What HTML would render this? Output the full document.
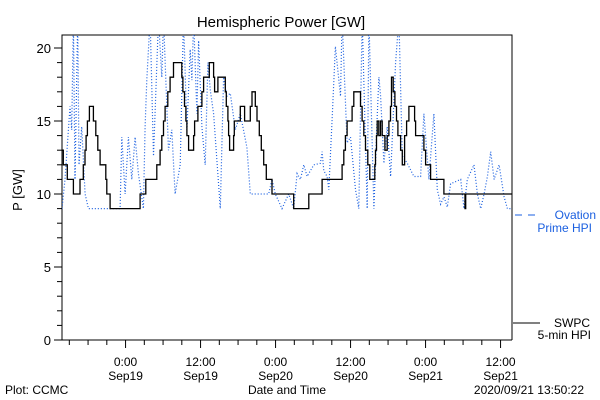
<!DOCTYPE html>
<html><head><meta charset="utf-8"><style>
body{margin:0;background:#fff;}
svg{display:block;font-family:"Liberation Sans",sans-serif;}
</style></head><body>
<svg id="chart" width="600" height="400">
<rect width="600" height="400" fill="#fff"/>
<text x="281" y="27" font-size="15" text-anchor="middle">Hemispheric Power [GW]</text>
<text transform="translate(22,190) rotate(-90)" font-size="13" text-anchor="middle">P [GW]</text>
<text x="5" y="394" font-size="12">Plot: CCMC</text>
<text x="287" y="394" font-size="12" text-anchor="middle">Date and Time</text>
<text x="584" y="394" font-size="12" text-anchor="end">2020/09/21 13:50:22</text>
<g id="axes"></g>
<g id="series"></g>
<line x1="515" y1="215" x2="540" y2="215" stroke="#1a5fe0" stroke-width="1" stroke-dasharray="7,6"/>
<text x="596" y="219" font-size="12" fill="#1a5fe0" text-anchor="end">Ovation</text>
<text x="592" y="232" font-size="12" fill="#1a5fe0" text-anchor="end">Prime HPI</text>
<line x1="513" y1="323" x2="540" y2="323" stroke="#000"/>
<text x="590" y="327" font-size="12" text-anchor="end">SWPC</text>
<text x="591" y="339" font-size="12" text-anchor="end">5-min HPI</text>
</svg>
<script>
// data: hours since 2020-09-18 13:50
const swpcTimes=[
0,0.21,0.85,1.82,2.88,3.41,3.68,3.85,4.06,4.38,
5.02,5.4,5.72,6.09,7.0,7.16,7.69,12.5,13.4,15.17,
15.7,15.97,16.24,16.5,16.93,17.3,17.84,19.17,19.34,19.6,
19.82,19.98,20.25,21.05,21.21,21.74,22.38,22.65,23.18,23.56,
24.25,24.41,24.95,26.12,26.28,26.55,26.66,26.82,27.46,27.56,
28.53,29.22,30.13,30.4,30.93,31.2,31.57,31.89,32.27,32.69,
33.6,37.07,39.48,41.62,44.82,45.09,45.35,45.62,46.42,46.69,
47.76,48.02,48.29,48.56,48.93,49.09,49.25,50.05,50.16,50.32,
50.43,50.69,50.96,51.23,51.66,52.03,52.3,52.56,52.72,52.99,
53.26,53.52,53.74,54.17,54.44,54.81,55.13,55.5,56.41,56.57,
57.91,58.17,58.98,61.11,64.48,64.6,72];
const swpcValues=[
13,12,11,10,11,12,13,14,15,16,
15,14,13,12,11,10,9,10,11,12,
13,14,15,16,17,18,19,18,17,16,
15,14,13,14,15,16,17,18,18,19,
18,17,18,17,16,15,14,13,14,15,
16,15,16,17,16,15,14,13,12,11,
10,9,10,11,12,13,14,15,16,17,
16,15,14,13,12,12,11,12,13,14,
15,14,15,14,13,14,15,16,18,17,
16,15,14,13,12,14,15,16,15,14,
13,12,11,10,9,10,10];
const ovationTimes=[0,0.48,1.28,1.55,1.82,2.08,2.51,2.72,3.15,3.69,4.22,9.29,9.56,10.1,10.63,11.16,11.7,12.23,13.03,13.3,13.57,14.1,14.64,15.44,15.97,16.24,17.04,17.57,18.1,18.91,19.44,19.98,20.51,20.78,21.05,21.58,21.85,22.38,22.91,23.34,23.72,24.25,25.32,25.85,26.39,26.92,27.72,28.53,29.59,30.13,33.07,33.6,34.13,35.2,36.27,37.07,37.61,38.14,38.68,39.21,40.28,41.35,41.62,41.88,42.42,42.69,43.22,43.75,44.56,44.82,45.62,46.16,46.96,47.49,48.03,48.83,49.1,49.9,50.43,50.7,50.97,51.5,52.03,52.57,53.37,53.9,54.44,55.24,56.31,57.38,57.91,58.71,59.51,60.05,60.58,61.12,61.65,62.18,63.79,64.32,64.85,65.92,66.46,66.99,67.53,68.06,68.59,69.13,69.93,70.73,71.27,72];
const ovationValues=[9,11,16,14.4,22,11,22,12,14.6,10,9,9,13.9,10,13.9,11,13.9,11.4,9,14.6,17.8,22,12.6,22,18,22,13,14.4,10,12,22,14.4,19.9,17.8,22,15.5,20.5,14.6,12,19,17.1,15.5,9,18,16.7,16.9,14.4,15.5,13.2,10,10,11,10,9,10,9,11.4,11,12,11.2,12,12.1,12.9,11.6,11.2,10.3,15.1,20.1,16.7,22,13.5,13.9,10.3,9,22,9,22,9,15.3,18,16.7,12.1,14.6,11.2,19,22,12.6,12.1,11.2,11.2,15.5,11,15.5,10.3,9.3,9.8,9.1,10.7,11,9,11,12,10,9,10,11.2,12.9,11,12,9.8,9,9];
const yTicks=[0,5,10,15,20];
const xTickHours=[10.17,22.17,34.17,46.17,58.17,70.17];
const xTickLabels=[["0:00","Sep19"],["12:00","Sep19"],["0:00","Sep20"],["12:00","Sep20"],["0:00","Sep21"],["12:00","Sep21"]];

const NS="http://www.w3.org/2000/svg";
const L=62,R=512,T=35,B=340,HMAX=72;
const xs=h=>L+h*(R-L)/HMAX;
const ys=v=>B-v*14.6;
function mk(tag,attrs,parent){const e=document.createElementNS(NS,tag);for(const k in attrs)e.setAttribute(k,attrs[k]);parent.appendChild(e);return e;}
const ax=document.getElementById('axes'), se=document.getElementById('series');
const defs=mk('defs',{},se);
const cp=mk('clipPath',{id:'plotclip'},defs);
mk('rect',{x:L,y:T,width:R-L,height:B-T},cp);
const frame=mk('path',{d:`M${L},${B}V${T}H${R}V${B}`,fill:'none',stroke:'#000'},ax);


const xa=mk('line',{x1:L,y1:B,x2:R,y2:B,stroke:'#000'},ax);


for(let v=0;v<=20;v++){const major=v%5===0;const t=mk('line',{x1:L-(major?8:5),y1:ys(v),x2:L,y2:ys(v),stroke:'#000'},ax);

}
yTicks.forEach(v=>{const t=mk('text',{x:L-11,y:ys(v)+5,'font-size':13,'text-anchor':'end'},ax);t.textContent=String(v);

});
for(let h=xTickHours[0]-9;h<=HMAX;h+=3){if(h<0)continue;const major=xTickHours.some(m=>Math.abs(m-h)<0.01);
const t=mk('line',{x1:xs(h),y1:B,x2:xs(h),y2:B+(major?8:5),stroke:'#000'},ax);

}
xTickHours.forEach((h,i)=>{xTickLabels[i].forEach((s,j)=>{const t=mk('text',{x:xs(h),y:366+j*14,'font-size':12,'text-anchor':'middle'},ax);t.textContent=s;

});});
let d='';ovationTimes.forEach((h,i)=>{d+=(i?'L':'M')+xs(h).toFixed(1)+','+ys(ovationValues[i]).toFixed(1);});
const ov=mk('path',{d,fill:'none',stroke:'#1a5fe0','stroke-width':1.2,'stroke-dasharray':'1,2','clip-path':'url(#plotclip)'},se);


let d2='';swpcTimes.forEach((h,i)=>{const x=xs(h).toFixed(1),y=ys(swpcValues[i]).toFixed(1);if(i===0)d2+=`M${x},${y}`;else d2+=`H${x}V${y}`;});
d2+='H'+xs(HMAX);
const sw=mk('path',{d:d2,fill:'none',stroke:'#000','stroke-width':1.3,'clip-path':'url(#plotclip)'},se);


</script>
</body></html>
